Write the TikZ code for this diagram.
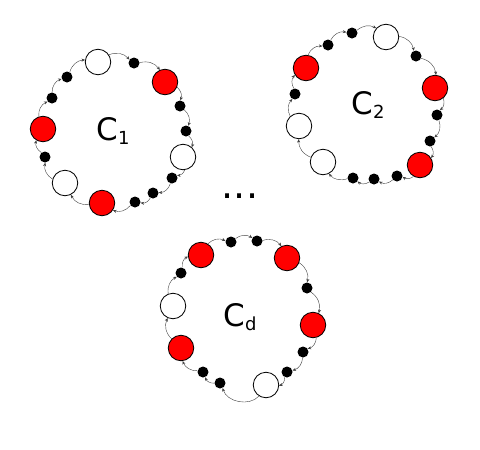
\documentclass[tikz,border=0pt]{standalone}
\usepackage{fontspec}
\setmainfont{DejaVu Sans}
\usetikzlibrary{arrows.meta}
\begin{document}
\begin{tikzpicture}[x=1pt,y=-1pt,
  wnode/.style={circle,draw=black,fill=white,line width=0.8pt,minimum size=25.5pt,inner sep=0pt},
  rnode/.style={circle,draw=black,fill=red,line width=0.8pt,minimum size=25.5pt,inner sep=0pt},
  dnode/.style={circle,fill=black,minimum size=11pt,inner sep=0pt},
  link/.style={-{Stealth[length=3.5pt,width=3pt]},line width=0.4pt,draw=black!75},
  lbl/.style={font=\fontsize{31}{31}\selectfont,inner sep=0pt}
]
\useasboundingbox (0,0) rectangle (480,450);
% cycle 1
\foreach \n/\t/\x/\y in {a1/wnode/98/62,a2/dnode/134/63,a3/rnode/165/82,a4/dnode/180/106,a5/dnode/186/131,a6/wnode/183/157,a7/dnode/172/178,a8/dnode/153/193,a9/dnode/135/202,a10/rnode/102/203,a11/wnode/65/183,a12/dnode/45/157,a13/rnode/43/129,a14/dnode/52/98,a15/dnode/67/77}
  \node[\t] (\n) at (\x,\y) {};
\foreach \a/\b in {a1/a2,a2/a3,a3/a4,a4/a5,a5/a6,a6/a7,a7/a8,a8/a9,a9/a10,a10/a11,a11/a12,a12/a13,a13/a14,a14/a15,a15/a1}
  \draw[link] (\a) to[bend left=35] (\b);
% cycle 2
\foreach \n/\t/\x/\y in {b1/wnode/386/37,b2/dnode/416/56,b3/rnode/435/88,b4/dnode/437/115,b5/dnode/430/141,b6/rnode/420/165,b7/dnode/397/176,b8/dnode/374/179,b9/dnode/353/178,b10/wnode/323/162,b11/wnode/299/126,b12/dnode/295/94,b13/rnode/306/68,b14/dnode/328/45,b15/dnode/352/33}
  \node[\t] (\n) at (\x,\y) {};
\foreach \a/\b in {b1/b2,b2/b3,b3/b4,b4/b5,b5/b6,b6/b7,b7/b8,b8/b9,b9/b10,b10/b11,b11/b12,b12/b13,b13/b14,b14/b15,b15/b1}
  \draw[link] (\a) to[bend left=35] (\b);
% cycle d
\foreach \n/\t/\x/\y in {c1/rnode/201/255,c2/dnode/231/242,c3/dnode/257/241,c4/rnode/287/258,c5/dnode/307/288,c6/rnode/313/325,c7/dnode/303/352,c8/dnode/287/372,c9/wnode/266/385,c10/dnode/220/383,c11/dnode/203/372,c12/rnode/181/348,c13/wnode/173/306,c14/dnode/181/273}
  \node[\t] (\n) at (\x,\y) {};
\foreach \a/\b in {c1/c2,c2/c3,c3/c4,c4/c5,c5/c6,c6/c7,c7/c8,c8/c9,c10/c11,c11/c12,c12/c13,c13/c14,c14/c1}
  \draw[link] (\a) to[bend left=35] (\b);
\draw[link] (c9) to[bend left=60] (c10);
% labels
\node[lbl] (l1) at (113,131) {C\raisebox{-4pt}{\fontsize{18}{18}\selectfont 1}};
\node[lbl] (l2) at (368,105) {C\raisebox{-4pt}{\fontsize{18}{18}\selectfont 2}};
\node[lbl] (l3) at (240,317) {C\raisebox{-4pt}{\fontsize{18}{18}\selectfont d}};
\node[font=\fontsize{38}{38}\selectfont,anchor=base,inner sep=0pt] (dots) at (240,198) {...};
\end{tikzpicture}
\end{document}
